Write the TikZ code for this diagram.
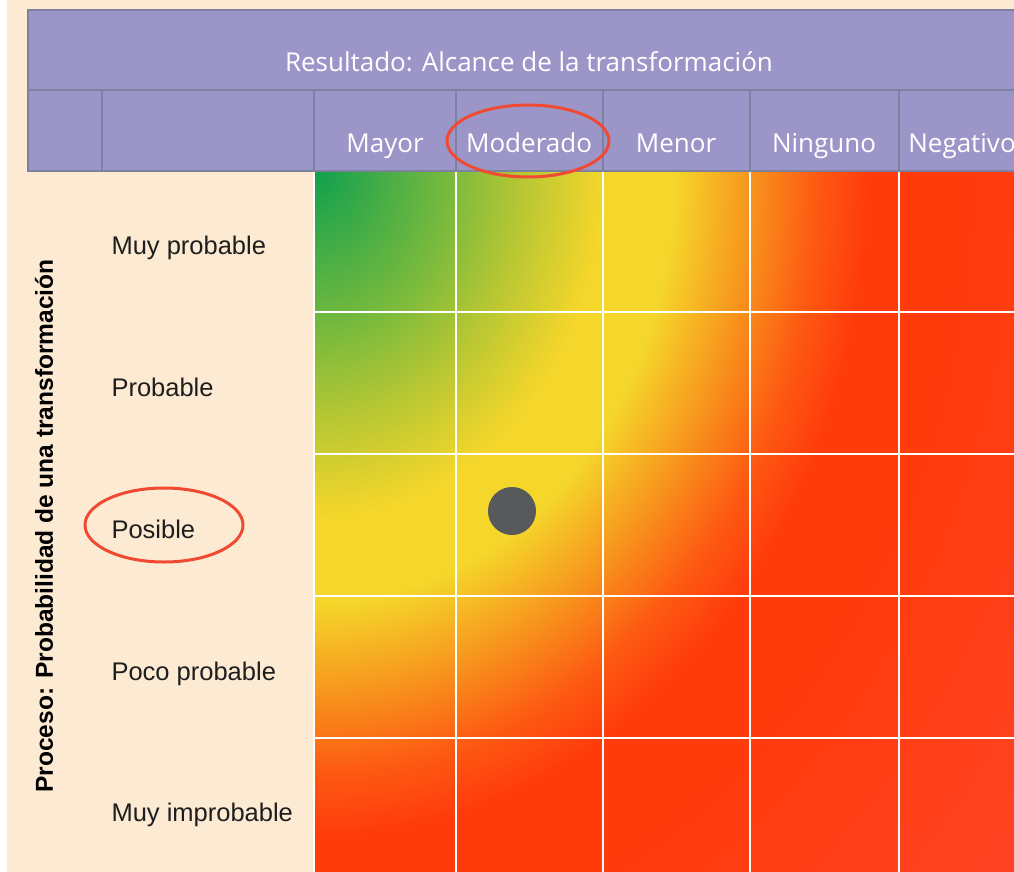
\documentclass[tikz,border=0pt]{standalone}
\usepackage{fontspec}
\setmainfont{Liberation Sans}
\newfontfamily\headfont{Open Sans}

\definecolor{peach}{HTML}{FDEAD3}
\definecolor{lilac}{HTML}{9C96C8}
\definecolor{slate}{HTML}{7C829F}
\definecolor{ringred}{HTML}{F04A32}
\definecolor{dotgray}{HTML}{58595B}
\definecolor{labelink}{HTML}{1E1E1E}
\definecolor{gGreen}{HTML}{0FA04E}
\definecolor{gLime}{HTML}{7DBB3C}
\definecolor{gOlive}{HTML}{B8C733}
\definecolor{gYellow}{HTML}{F5D62A}
\definecolor{gOrange}{HTML}{F7941D}
\definecolor{gRedOr}{HTML}{FD5A12}
\definecolor{gRed}{HTML}{FF3B0C}
\definecolor{gPaleRed}{HTML}{FF4426}

% 25bp of the shading = horizontal radius of the shaded ellipse (950pt)
\pgfdeclareradialshading{riskglow}{\pgfpointorigin}{%
  color(0bp)=(gGreen); color(3.7bp)=(gLime); color(5.5bp)=(gOlive);
  color(7.6bp)=(gYellow); color(9.5bp)=(gYellow); color(11.5bp)=(gOrange);
  color(13.2bp)=(gRedOr); color(14.6bp)=(gRed); color(17bp)=(gRed);
  color(25bp)=(gPaleRed); color(50bp)=(gPaleRed)}

\tikzset{
  hdrcell/.style={draw=slate, line width=2pt, fill=lilac},
  hdrline/.style={slate, line width=2pt},
  hdrtext/.style={anchor=base, text=white, font=\headfont\fontsize{26}{30}\selectfont},
  rowlabel/.style={anchor=base west, text=labelink, font=\fontsize{25.5}{30}\selectfont},
  axislabel/.style={rotate=90, text=black, font=\bfseries\fontsize{24.5}{28}\selectfont},
  gridline/.style={white, line width=2.5pt},
  ring/.style={draw=ringred, line width=3pt},
}

\begin{document}
\begin{tikzpicture}[x=1pt, y=-1pt]
  \useasboundingbox (0,0) rectangle (1014,872);
  \clip (0,0) rectangle (1014,872);
  \fill[white] (0,0) rectangle (1014,872);
  \fill[peach] (7,0) rectangle (1014,872);

  % colour field of the matrix
  \begin{scope}
    \clip (314,170) rectangle (1014,872);
    \shade[shading=riskglow] (314,170) ellipse (950 and 1140);
  \end{scope}

  % white cell borders
  \draw[gridline] (314,170) -- (314,872);
  \draw[gridline] (456,170) -- (456,872);
  \draw[gridline] (603,170) -- (603,872);
  \draw[gridline] (750,170) -- (750,872);
  \draw[gridline] (899,170) -- (899,872);
  \draw[gridline] (314,170) -- (1014,170);
  \draw[gridline] (314,312) -- (1014,312);
  \draw[gridline] (314,454) -- (1014,454);
  \draw[gridline] (314,596) -- (1014,596);
  \draw[gridline] (314,738) -- (1014,738);

  % header band
  \draw[hdrcell] (28,10) rectangle (1040,171);
  \draw[hdrline] (28,90) -- (1040,90);
  \draw[hdrline] (102,90) -- (102,171);
  \draw[hdrline] (314,90) -- (314,171);
  \draw[hdrline] (456,90) -- (456,171);
  \draw[hdrline] (603,90) -- (603,171);
  \draw[hdrline] (750,90) -- (750,171);
  \draw[hdrline] (899,90) -- (899,171);

  \node[hdrtext] (title) at (529,72) {Resultado: Alcance de la transformación};
  \node[hdrtext] (mayor) at (385,152) {Mayor};
  \node[hdrtext] (moderado) at (529,152) {Moderado};
  \node[hdrtext] (menor) at (676,152) {Menor};
  \node[hdrtext] (ninguno) at (824,152) {Ninguno};
  \node[hdrtext] (negativo) at (962,152) {Negativo};

  % row labels
  \node[axislabel] (proceso) at (44,526) {Proceso: Probabilidad de una transformación};
  \node[rowlabel] (muyprob) at (108,254) {Muy probable};
  \node[rowlabel] (probable) at (108,396) {Probable};
  \node[rowlabel] (posible) at (108,538) {Posible};
  \node[rowlabel] (pocoprob) at (108,680) {Poco probable};
  \node[rowlabel] (muyimprob) at (108,821) {Muy improbable};

  % highlights
  \draw[ring] (528,141) ellipse (81 and 36);
  \draw[ring] (164,525) ellipse (79 and 37);
  \fill[dotgray] (512,511) circle (24);
\end{tikzpicture}
\end{document}
